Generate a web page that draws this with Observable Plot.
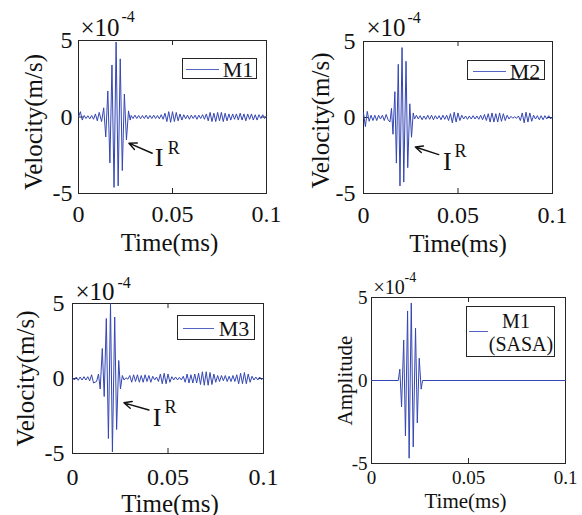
<!DOCTYPE html>
<html><head><meta charset="utf-8">
<script src="https://cdn.jsdelivr.net/npm/d3@7"></script>
<script src="https://cdn.jsdelivr.net/npm/@observablehq/plot@0.6"></script>
<style>
html,body{margin:0;padding:0;background:#fff;}
#wrap{position:relative;width:582px;height:515px;overflow:hidden;font-family:"Liberation Serif","Times New Roman",serif;}
.panel{position:absolute;}
.legend{position:absolute;border:1px solid #262626;background:#fff;box-sizing:border-box;}
.legend .ln{position:absolute;height:0;border-top:1.3px solid #5466c4;}
.legend .tx{position:absolute;white-space:nowrap;color:#111;line-height:1;transform:translate(-50%,-50%);}
</style></head><body><div id="wrap"></div>
<script>
// ---------- data (time in microseconds = 0.001 ms, velocity in 1e-4 m/s) ----------
const xTicks = [0, 50, 100];
const xTickLabels = ["0", "0.05", "0.1"];
const yTicks = [-5, 0, 5];
const yTickLabels = ["-5", "0", "5"];
const seriesNames = ["M1", "M2", "M3", "M1 (SASA)"];

const m1Time = [0,1,2,3,4,5,6,7,8,9,10,11,
  12.3,13.4,14.5,15.6,16.7,17.8,18.9,20.0,21.1,22.2,23.3,24.4,25.5,26.6,27.5,
  28,29,30,31,32,33,34,35,36,37,38,39,40,41,42,43,44,45,46,47,48,49,50,51,52,53,54,55,56,57,58,59,60,61,62,63,64,
  65,66,67,68,69,70,71,72,73,74,75,76,77,78,79,80,81,82,83,84,85,86,87,88,89,90,91,92,93,94,95,96,97,98,99,100];
const m1Vel = [0,0.35,-0.2,0.1,-0.1,0.08,-0.12,0.1,-0.15,0.2,-0.25,0.3,
  -0.3,0.6,-1.3,1.7,-3.0,3.4,-4.6,4.9,-4.5,3.8,-3.5,1.5,-1.5,0.4,-0.2,
  0.1,-0.1,0.12,-0.1,0.1,-0.12,0.1,-0.1,0.12,-0.12,0.1,-0.1,0.12,-0.1,0.1,-0.12,0.15,-0.15,0.25,-0.3,0.35,-0.35,0.35,-0.3,0.3,-0.25,0.2,-0.2,0.15,-0.12,0.12,-0.15,0.12,-0.1,0.12,-0.15,0.12,
  -0.1,0.15,-0.15,0.2,-0.25,0.3,-0.3,0.25,-0.3,0.3,-0.25,0.3,-0.3,0.25,-0.25,0.2,-0.2,0.2,-0.15,0.2,-0.2,0.25,-0.2,0.2,-0.25,0.2,-0.15,0.2,-0.2,0.15,-0.2,0.15,-0.1,0.15,-0.1,0.05];

const m2Time = [0,1,2,3,4,5,6,7,8,9,10,11,12,13,
  14.0,14.8,15.6,16.6,17.4,18.4,19.3,20.4,21.3,22.5,23.4,24.5,25.4,26.3,27.0,
  28,29,30,31,32,33,34,35,36,37,38,39,40,41,42,43,44,45,46,47,48,49,50,51,52,53,54,55,56,57,58,59,60,61,62,63,64,
  65,66,67,68,69,70,71,72,73,74,75,76,77,78,79,80,81,82,83,84,85,86,87,88,89,90,91,92,93,94,95,96,97,98,99,100];
const m2Vel = [0.3,-0.6,0.4,-0.25,0.15,-0.2,0.15,-0.2,0.15,-0.1,0.15,-0.2,0.2,-0.15,
  -0.3,0.6,-1.1,1.7,-3.0,3.5,-4.5,4.6,-4.25,3.7,-3.3,0.9,-1.3,0.3,-0.1,
  0.15,-0.1,0.12,-0.15,0.1,-0.12,0.15,-0.12,0.15,-0.15,0.12,-0.1,0.12,-0.15,0.15,-0.12,0.15,-0.2,0.25,-0.35,0.35,-0.3,0.3,-0.2,0.15,-0.1,0.1,-0.12,0.1,-0.1,0.12,-0.1,0.1,-0.12,0.15,-0.15,0.2,
  -0.2,0.25,-0.3,0.3,-0.3,0.25,-0.3,0.3,-0.25,0.25,-0.2,0.15,-0.1,0.08,-0.05,0.05,-0.05,0.1,-0.2,0.3,-0.35,0.35,-0.3,0.3,-0.25,0.15,-0.1,0.12,-0.15,0.12,-0.15,0.12,-0.1,0.12,-0.1,0.05];

const m3Time = [0,1,2,3,4,5,6,7,8,9,10,11,
  12.6,13.6,14.5,15.6,16.6,17.7,18.8,19.9,20.9,22.1,23.1,24.2,25.1,26.1,27.0,
  28,29,30,31,32,33,34,35,36,37,38,39,40,41,42,43,44,45,46,47,48,49,50,51,52,53,54,55,56,57,58,59,60,61,62,63,64,
  65,66,67,68,69,70,71,72,73,74,75,76,77,78,79,80,81,82,83,84,85,86,87,88,89,90,91,92,93,94,95,96,97,98,99,100];
const m3Vel = [0.05,-0.1,0.1,-0.12,0.1,-0.1,0.12,-0.1,0.12,-0.15,0.25,-0.3,
  -0.2,0.3,-0.7,2.0,-1.2,4.0,-4.0,5.0,-4.9,4.1,-3.4,1.2,-0.7,0.2,-0.1,
  0.05,-0.05,0.2,-0.25,0.25,-0.2,0.25,-0.25,0.2,-0.25,0.25,-0.2,0.2,-0.25,0.15,-0.1,0.1,-0.2,0.3,-0.35,0.35,-0.35,0.3,-0.25,0.12,-0.1,0.1,-0.1,0.08,-0.1,0.15,-0.25,0.3,-0.3,0.25,-0.3,0.3,
  -0.3,0.35,-0.4,0.45,-0.45,0.45,-0.45,0.4,-0.4,0.3,-0.25,0.2,-0.2,0.2,-0.15,0.2,-0.2,0.15,-0.2,0.2,-0.2,0.25,-0.35,0.35,-0.35,0.4,-0.35,0.3,-0.25,0.15,-0.1,0.1,-0.1,0.1,-0.08,0.05];

const m1SasaTime = [0,13.8,14.6,15.5,16.6,17.5,18.6,19.4,20.5,21.5,22.7,23.6,24.6,25.6,26.3,100];
const m1SasaAmp = [0,0,0.68,-1.59,2.43,-3.34,4.19,-4.68,4.67,-4.0,3.15,-2.55,1.34,-0.52,0,0];

// annotation "I^R" anchors (data coordinates): arrow tail, arrow head, "I", "R"
const annM1 = {tail: [39.2, -2.37], head: [26.8, -1.71], I: [42.9, -2.68], R: [50.7, -2.05]};
const annM2 = {tail: [39.8, -2.44], head: [27.4, -1.94], I: [44.3, -2.88], R: [51.3, -2.21]};
const annM3 = {tail: [40.0, -2.10], head: [26.9, -1.62], I: [44.3, -2.62], R: [51.3, -1.90]};

// ---------- drawing ----------
const LINE = "#3446b4";
const INK = "#262626";
const FONT = "Liberation Serif, Times New Roman, serif";
const wrap = document.getElementById("wrap");

function makePanel(c) {
  const data = c.time.map((t, i) => ({t, v: c.vals[i]}));
  const fw = c.width - c.ml - c.mr;
  const fh = c.height - c.mt - c.mb;
  const marks = [
    Plot.frame({stroke: INK, strokeWidth: 1}),
    Plot.tickX(xTicks, {x: d => d, insetTop: fh - 5, stroke: INK}),
    Plot.tickX(xTicks, {x: d => d, insetBottom: fh - 5, stroke: INK}),
    Plot.tickY(yTicks, {y: d => d, insetRight: fw - 5, stroke: INK}),
    Plot.tickY(yTicks, {y: d => d, insetLeft: fw - 5, stroke: INK}),
    Plot.axisX({ticks: xTicks, tickFormat: d => xTickLabels[xTicks.indexOf(d)], tickSize: 0, tickPadding: c.xpad, label: null, fontSize: c.tickFont, fill: "#111"}),
    Plot.axisY({ticks: yTicks, tickFormat: d => yTickLabels[yTicks.indexOf(d)], tickSize: 0, tickPadding: c.ypad, label: null, fontSize: c.tickFont, fill: "#111"}),
    Plot.line(data, {x: "t", y: "v", stroke: LINE, strokeWidth: 1}),
    Plot.text(["×10"], {text: d => d, frameAnchor: "top-left", textAnchor: "start", lineAnchor: "middle", dx: c.expDx, dy: c.expDy, fontSize: c.expFont, fill: "#111"}),
    Plot.text(["-4"], {text: d => d, frameAnchor: "top-left", textAnchor: "start", lineAnchor: "middle", dx: c.supDx, dy: c.supDy, fontSize: c.supFont, fill: "#111"}),
    Plot.text([c.xLabel], {text: d => d, frameAnchor: "bottom", lineAnchor: "middle", dx: c.xlDx, dy: c.xlDy, fontSize: c.labelFont, fill: "#111"}),
    Plot.text([c.yLabel], {text: d => d, frameAnchor: "left", rotate: -90, lineAnchor: "middle", textAnchor: "middle", dx: c.ylDx, dy: c.ylDy, fontSize: c.labelFont, fill: "#111"})
  ];
  if (c.ann) {
    const a = c.ann;
    marks.push(
      Plot.arrow([a], {x1: d => d.tail[0], y1: d => d.tail[1], x2: d => d.head[0], y2: d => d.head[1], stroke: "#111", strokeWidth: 1.4, headLength: 9, headAngle: 50}),
      Plot.text([a], {x: d => d.I[0], y: d => d.I[1], text: () => "I", fontSize: 26, fill: "#111"}),
      Plot.text([a], {x: d => d.R[0], y: d => d.R[1], text: () => "R", fontSize: 18, fill: "#111"})
    );
  }
  const svg = Plot.plot({
    width: c.width, height: c.height,
    marginLeft: c.ml, marginRight: c.mr, marginTop: c.mt, marginBottom: c.mb,
    x: {domain: [0, 100]},
    y: {domain: [-5, 5]},
    style: {fontFamily: FONT, fontSize: c.tickFont + "px", background: "transparent", overflow: "visible", color: "#111"},
    marks
  });
  const holder = document.createElement("div");
  holder.className = "panel";
  holder.style.left = c.left + "px";
  holder.style.top = c.top + "px";
  holder.appendChild(svg);
  wrap.appendChild(holder);
}

function makeLegend(l) {
  const box = document.createElement("div");
  box.className = "legend";
  Object.assign(box.style, {left: l.x + "px", top: l.y + "px", width: l.w + "px", height: l.h + "px"});
  const ln = document.createElement("div");
  ln.className = "ln";
  Object.assign(ln.style, {left: l.lx + "px", top: l.ly + "px", width: l.lw + "px"});
  box.appendChild(ln);
  l.texts.forEach(t => {
    const s = document.createElement("div");
    s.className = "tx";
    s.textContent = t.s;
    Object.assign(s.style, {left: t.cx + "px", top: t.cy + "px", fontSize: l.font + "px"});
    box.appendChild(s);
  });
  wrap.appendChild(box);
}

const velLabel = "Velocity(m/s)";
const timeLabel = "Time(ms)";

makePanel({left: 0, top: 0, width: 290, height: 253, ml: 78, mr: 24, mt: 40, mb: 60,
  time: m1Time, vals: m1Vel, tickFont: 24, labelFont: 25, xpad: 11, ypad: 6,
  expFont: 25, expDx: 2, expDy: -13, supFont: 16, supDx: 43, supDy: -24,
  xLabel: timeLabel, xlDx: -3, xlDy: 49, yLabel: velLabel, ylDx: -45, ylDy: 5, ann: annM1});
makePanel({left: 290, top: 0, width: 292, height: 253, ml: 73, mr: 30, mt: 41, mb: 60,
  time: m2Time, vals: m2Vel, tickFont: 24, labelFont: 25, xpad: 12, ypad: 8,
  expFont: 25, expDx: 3, expDy: -13.5, supFont: 16, supDx: 44, supDy: -24,
  xLabel: timeLabel, xlDx: 0, xlDy: 50, yLabel: velLabel, ylDx: -43, ylDy: 3, ann: annM2});
makePanel({left: 0, top: 260, width: 290, height: 255, ml: 72, mr: 27, mt: 43, mb: 62,
  time: m3Time, vals: m3Vel, tickFont: 24, labelFont: 25, xpad: 14, ypad: 8,
  expFont: 25, expDx: 3, expDy: -11.5, supFont: 16, supDx: 45, supDy: -21,
  xLabel: timeLabel, xlDx: 2, xlDy: 50, yLabel: velLabel, ylDx: -47, ylDy: 0, ann: annM3});
makePanel({left: 290, top: 260, width: 292, height: 255, ml: 81, mr: 17, mt: 37, mb: 52,
  time: m1SasaTime, vals: m1SasaAmp, tickFont: 19, labelFont: 21, xpad: 7, ypad: 4,
  expFont: 20, expDx: 2, expDy: -9.5, supFont: 14, supDx: 33, supDy: -19.5,
  xLabel: timeLabel, xlDx: -3, xlDy: 38, yLabel: "Amplitude", ylDx: -26, ylDy: 0, ann: null});

makeLegend({x: 182, y: 58, w: 75, h: 21, lx: 3, ly: 10, lw: 33, font: 22, texts: [{s: seriesNames[0], cx: 55, cy: 11}]});
makeLegend({x: 467, y: 60, w: 78, h: 20, lx: 5, ly: 10, lw: 33, font: 22, texts: [{s: seriesNames[1], cx: 57, cy: 10.5}]});
makeLegend({x: 177, y: 315, w: 78, h: 25, lx: 5, ly: 12, lw: 31, font: 22, texts: [{s: seriesNames[2], cx: 56, cy: 13}]});
makeLegend({x: 466, y: 306, w: 89, h: 51, lx: 2, ly: 24, lw: 19, font: 20,
  texts: [{s: seriesNames[3].split(" ")[0], cx: 49, cy: 14}, {s: seriesNames[3].split(" ")[1], cx: 54, cy: 37}]});
</script>
</body></html>
